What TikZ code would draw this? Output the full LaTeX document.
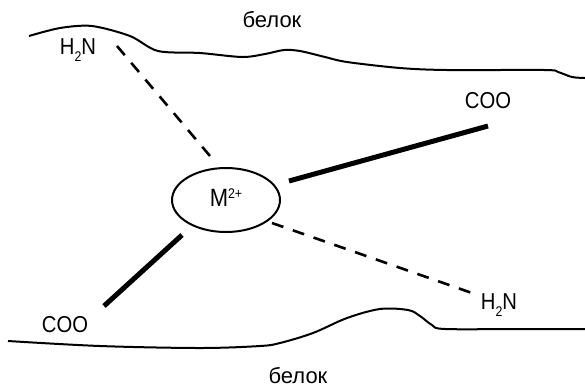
\documentclass[tikz,border=0pt]{standalone}
\usepackage{fontspec}
\setmainfont{Liberation Sans}
\newfontfamily\narrowfont[FakeStretch=0.88]{Liberation Sans}
\usetikzlibrary{shapes.geometric}
\newcommand{\lowtwo}{\raisebox{-3.6pt}{\fontsize{7}{8}\selectfont 2}}
\begin{document}
\begin{tikzpicture}[x=0.5pt,y=-0.5pt,
  lbl/.style={font=\narrowfont\fontsize{11.5}{13}\selectfont, inner sep=0pt},
  prot/.style={font=\fontsize{11}{13}\selectfont, inner sep=0pt},
  surf/.style={line width=1pt, line join=round},
  coordbond/.style={line width=2.5pt},
  hbond/.style={line width=1.3pt, dash pattern=on 6pt off 5pt}]
\useasboundingbox (0,0) rectangle (585,388);
% protein surfaces
\draw[surf] plot[smooth, tension=0.5] coordinates {(29,36) (60,28) (92,26) (130,36) (158,51) (200,53) (242,57) (265,54) (284,50) (300,51) (325,57) (347,62) (400,68) (447,70) (545,70) (558,72) (572,77) (585,78)};
\draw[surf] plot[smooth, tension=0.55] coordinates {(8,341) (100,346) (200,348) (260,346) (280,343) (313,333) (347,318) (380,309) (408,310) (420,316) (432,325) (445,329) (520,329) (585,329)};
\node[prot] (prot1) at (272,20) {белок};
\node[prot] (prot2) at (298,376) {белок};
% metal ion
\node[draw, ellipse, line width=1pt, minimum width=54pt, minimum height=32pt, inner sep=0pt,
  font=\narrowfont\fontsize{12.5}{14}\selectfont, text height=8.9pt, text depth=2.5pt] (M) at (226,200)
  {M\raisebox{3.8pt}{\fontsize{7}{8}\selectfont 2+}};
% ligands
\node[lbl] (nA) at (78,50) {H\lowtwo N};
\node[lbl] (cA) at (488,101) {COO};
\node[lbl] (cB) at (65,325) {COO};
\node[lbl] (nB) at (499,305) {H\lowtwo N};
% bond end points
\coordinate (nA1) at (117,46);
\coordinate (nA2) at (210,156);
\coordinate (cA1) at (289,181);
\coordinate (cA2) at (488,126);
\coordinate (cB1) at (182,235);
\coordinate (cB2) at (104,306);
\coordinate (nB1) at (272,223);
\coordinate (nB2) at (472,293);
\draw[hbond] (nA1) -- (nA2);
\draw[hbond] (nB1) -- (nB2);
\draw[coordbond] (cA1) -- (cA2);
\draw[coordbond] (cB1) -- (cB2);
\end{tikzpicture}
\end{document}
